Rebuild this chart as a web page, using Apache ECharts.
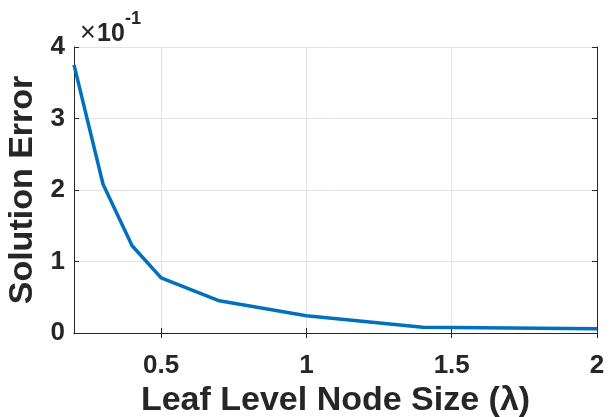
<!DOCTYPE html>
<html><head><meta charset="utf-8">
<script src="https://cdn.jsdelivr.net/npm/echarts@6/dist/echarts.min.js"></script>
<style>html,body{margin:0;padding:0;background:#fff}#c{width:614px;height:417px}</style>
</head><body><div id="c"></div>
<script>
const xValues = [0.2, 0.3, 0.4, 0.5, 0.7, 1.0, 1.4, 2.0];
const yValues = [3.75, 2.08, 1.22, 0.77, 0.45, 0.24, 0.08, 0.06];
const xTicks = [0.5, 1, 1.5, 2];
const yTicks = [0, 1, 2, 3, 4];
const xTitle = 'Leaf Level Node Size (\u03BB)';
const yTitle = 'Solution Error';
const expText = ['\u00D7', '10', '-1'];

const font = 'Liberation Sans, Arial, sans-serif';
const chart = echarts.init(document.getElementById('c'));
const axisCol = '#262626';
chart.setOption({
  animation: false,
  grid: {left: 74, right: 17, top: 47, bottom: 84, containLabel: false, outerBoundsMode: 'none'},
  graphic: [
    {type: 'text', x: 80, y: 34, style: {text: expText[0], fontSize: 27, fontFamily: font, fill: axisCol, verticalAlign: 'middle'}},
    {type: 'text', x: 97, y: 34, style: {text: expText[1], fontSize: 25, fontWeight: 'bold', fontFamily: font, fill: axisCol, verticalAlign: 'middle'}},
    {type: 'text', x: 125, y: 19, style: {text: expText[2], fontSize: 18, fontWeight: 'bold', fontFamily: font, fill: axisCol, verticalAlign: 'middle'}}
  ],
  xAxis: [{
    type: 'value', min: 0.2, max: 2,
    name: xTitle, nameLocation: 'middle', nameGap: 47,
    nameTextStyle: {fontSize: 34, fontWeight: 'bold', fontFamily: font, color: axisCol},
    axisLine: {show: true, lineStyle: {color: axisCol, width: 1}},
    axisTick: {show: true, inside: true, length: 5, lineStyle: {color: axisCol}, customValues: xTicks},
    axisLabel: {fontSize: 26, fontWeight: 'bold', fontFamily: font, color: axisCol, margin: 20,
      customValues: xTicks, formatter: v => String(v)},
    splitLine: {show: true, lineStyle: {color: '#e3e3e3', width: 1}},
  }, {
    type: 'value', min: 0.2, max: 2, position: 'top',
    axisLine: {show: true, lineStyle: {color: axisCol, width: 1}},
    axisTick: {show: true, inside: true, length: 5, lineStyle: {color: axisCol}, customValues: xTicks},
    axisLabel: {show: false}, splitLine: {show: false}
  }],
  yAxis: [{
    type: 'value', min: 0, max: 4, interval: 1,
    name: yTitle, nameLocation: 'middle', nameGap: 27,
    nameTextStyle: {fontSize: 34, fontWeight: 'bold', fontFamily: font, color: axisCol},
    axisLine: {show: true, lineStyle: {color: axisCol, width: 1}},
    axisTick: {show: true, inside: true, length: 5, lineStyle: {color: axisCol}},
    axisLabel: {fontSize: 26, fontWeight: 'bold', fontFamily: font, color: axisCol, margin: 9,
      formatter: v => String(v)},
    splitLine: {show: true, lineStyle: {color: '#e3e3e3', width: 1}},
  }, {
    type: 'value', min: 0, max: 4, interval: 1, position: 'right',
    axisLine: {show: true, lineStyle: {color: axisCol, width: 1}},
    axisTick: {show: true, inside: true, length: 5, lineStyle: {color: axisCol}},
    axisLabel: {show: false}, splitLine: {show: false}
  }],
  series: [{
    type: 'line', data: xValues.map((x, i) => [x, yValues[i]]),
    showSymbol: false, lineStyle: {color: '#0072BD', width: 3.5}
  }]
});
</script></body></html>
